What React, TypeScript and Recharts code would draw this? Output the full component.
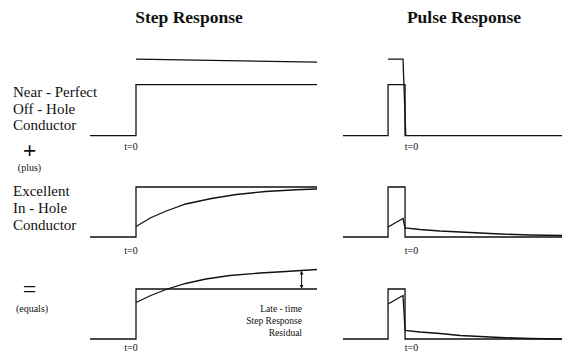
import React from 'react';
import { LineChart, Line, XAxis, YAxis, ReferenceLine } from 'recharts';

const FONT = "'Liberation Serif', 'Times New Roman', Times, serif";
const INK = '#111';

// column titles and row labels
const columnTitles = ['Step Response', 'Pulse Response'];
const rowLabels = [
  ['Near - Perfect', 'Off - Hole', 'Conductor'],
  ['Excellent', 'In - Hole', 'Conductor'],
];
const operatorSymbols = ['+', '='];
const operatorWords = ['(plus)', '(equals)'];
const residualNote = ['Late - time', 'Step Response', 'Residual'];
const tickLabel = 't=0';

// ---- step response series (t: time units, v: normalised amplitude) ----
const stepInput = [
  { t: -0.5, v: 0 }, { t: 0, v: 0 }, { t: 0, v: 1 }, { t: 1.97, v: 1 },
];
const offHoleUpper = [
  { t: 0, v: 1.5 }, { t: 1.97, v: 1.44 },
];
const inHoleStep = [
  { t: 0, v: 0.21 }, { t: 0.16, v: 0.385 }, { t: 0.33, v: 0.52 }, { t: 0.54, v: 0.66 },
  { t: 0.82, v: 0.77 }, { t: 1.09, v: 0.85 }, { t: 1.41, v: 0.91 }, { t: 1.74, v: 0.945 },
  { t: 1.97, v: 0.96 },
];
const residualStep = [
  { t: 0, v: 0.73 }, { t: 0.16, v: 0.87 }, { t: 0.34, v: 1.0 }, { t: 0.54, v: 1.11 },
  { t: 0.76, v: 1.2 }, { t: 1.02, v: 1.27 }, { t: 1.35, v: 1.32 }, { t: 1.63, v: 1.35 },
  { t: 1.97, v: 1.39 },
];
const residualArrow = { t: 1.8, from: 1.0, to: 1.37 };

// ---- pulse response series ----
const pulseInput = [
  { t: -3.65, v: 0 }, { t: -1, v: 0 }, { t: -1, v: 1 }, { t: 0, v: 1 }, { t: 0, v: 0 }, { t: 9.25, v: 0 },
];
const offHolePulseUpper = [
  { t: -1, v: 1.5 }, { t: -0.12, v: 1.5 }, { t: 0.04, v: 0 },
];
const inHolePulse = [
  { t: -1, v: 0.2 }, { t: -0.12, v: 0.37 }, { t: 0, v: 0.18 }, { t: 0.88, v: 0.15 },
  { t: 2.06, v: 0.12 }, { t: 3.24, v: 0.1 }, { t: 5.59, v: 0.06 }, { t: 7.35, v: 0.04 },
  { t: 9.25, v: 0.03 },
];
const residualPulse = [
  { t: -1, v: 0.7 }, { t: -0.12, v: 0.87 }, { t: 0, v: 0.17 }, { t: 0.88, v: 0.14 },
  { t: 2.06, v: 0.11 }, { t: 3.24, v: 0.07 }, { t: 5.59, v: 0.03 }, { t: 7.35, v: 0.01 },
  { t: 9.25, v: 0 },
];

const stepDomain: [number, number] = [-0.5, 1.97];
const pulseDomain: [number, number] = [-3.65, 9.25];
const yDomain: [number, number] = [-0.1, 1.6];

// layout of the rows: baseline pixel and pixels per unit amplitude
const rows = [
  { base: 136, unit: 51, labelOff: 5.6 },
  { base: 237.3, unit: 50, labelOff: 8.2 },
  { base: 339, unit: 50, labelOff: 3.5 },
];
const stepCol = { left: 90, pxPerUnit: 92, tickDx: -5 };
const pulseCol = { left: 343, pxPerUnit: 17, tickDx: 6.5 };
const AXIS_H = 20;

const ArrowShape = (p: any) => {
  const x = p.x1;
  const top = Math.min(p.y1, p.y2);
  const bot = Math.max(p.y1, p.y2);
  return (
    <g>
      <line x1={x} y1={top + 2} x2={x} y2={bot - 2} stroke={INK} strokeWidth={1} />
      <path d={`M${x},${top} L${x - 1.8},${top + 4} L${x + 1.8},${top + 4} Z`} fill={INK} />
      <path d={`M${x},${bot} L${x - 1.8},${bot - 4} L${x + 1.8},${bot - 4} Z`} fill={INK} />
    </g>
  );
};

type Series = { t: number; v: number }[];

function Panel({ row, col, domain, series, arrow }: {
  row: { base: number; unit: number; labelOff: number };
  col: { left: number; pxPerUnit: number; tickDx: number };
  domain: [number, number];
  series: Series[];
  arrow?: { t: number; from: number; to: number };
}) {
  const plotH = (yDomain[1] - yDomain[0]) * row.unit;
  const top = row.base - yDomain[1] * row.unit;
  const width = (domain[1] - domain[0]) * col.pxPerUnit;
  const renderTick = (p: any) => (
    <text
      x={p.x + col.tickDx}
      y={p.y - 8 + row.labelOff}
      textAnchor="middle"
      dominantBaseline="central"
      style={{ fontFamily: FONT }}
      fontSize={10}
      fill={INK}
    >
      {tickLabel}
    </text>
  );
  return (
    <div style={{ position: 'absolute', left: col.left, top, width, height: plotH + AXIS_H }}>
      <LineChart width={width} height={plotH + AXIS_H} margin={{ top: 0, right: 0, bottom: 0, left: 0 }}>
        <XAxis
          dataKey="t"
          type="number"
          domain={domain}
          ticks={[0]}
          height={AXIS_H}
          axisLine={false}
          tickLine={false}
          tick={renderTick}
          allowDuplicatedCategory={false}
        />
        <YAxis type="number" domain={yDomain} hide />
        {series.map((s, i) => (
          <Line
            key={i}
            data={s}
            dataKey="v"
            type="linear"
            stroke={INK}
            strokeWidth={1.3}
            dot={false}
            activeDot={false}
            isAnimationActive={false}
          />
        ))}
        {arrow && (
          <ReferenceLine
            segment={[{ x: arrow.t, y: arrow.from }, { x: arrow.t, y: arrow.to }]}
            shape={ArrowShape}
          />
        )}
      </LineChart>
    </div>
  );
}

const txt = { fontFamily: FONT, fill: INK } as React.CSSProperties;

export default function App() {
  return (
    <div
      style={{
        position: 'absolute', left: 0, top: 0, width: 562, height: 352,
        overflow: 'hidden', background: '#fff',
      }}
    >
      <Panel row={rows[0]} col={stepCol} domain={stepDomain} series={[stepInput, offHoleUpper]} />
      <Panel row={rows[1]} col={stepCol} domain={stepDomain} series={[stepInput, inHoleStep]} />
      <Panel row={rows[2]} col={stepCol} domain={stepDomain} series={[stepInput, residualStep]} arrow={residualArrow} />
      <Panel row={rows[0]} col={pulseCol} domain={pulseDomain} series={[pulseInput, offHolePulseUpper]} />
      <Panel row={rows[1]} col={pulseCol} domain={pulseDomain} series={[pulseInput, inHolePulse]} />
      <Panel row={rows[2]} col={pulseCol} domain={pulseDomain} series={[pulseInput, residualPulse]} />

      <svg
        width={562}
        height={352}
        style={{ position: 'absolute', left: 0, top: 0, pointerEvents: 'none' }}
      >
        <text style={txt} x={189} y={22.5} textAnchor="middle" fontSize={17.5} fontWeight="bold">{columnTitles[0]}</text>
        <text style={txt} x={464} y={22.5} textAnchor="middle" fontSize={17.5} fontWeight="bold">{columnTitles[1]}</text>

        {rowLabels[0].map((s, i) => (
          <text style={txt} key={'a' + i} x={13} y={97.3 + i * 16.4} fontSize={15}>{s}</text>
        ))}
        {rowLabels[1].map((s, i) => (
          <text style={txt} key={'b' + i} x={13} y={195.7 + i * 17.2} fontSize={15}>{s}</text>
        ))}

        <text style={txt} x={29.5} y={158} textAnchor="middle" fontSize={24} fontWeight="bold">{operatorSymbols[0]}</text>
        <text style={txt} x={29.5} y={170.5} textAnchor="middle" fontSize={10}>{operatorWords[0]}</text>
        <text style={txt} x={29.5} y={297} textAnchor="middle" fontSize={24}>{operatorSymbols[1]}</text>
        <text style={txt} x={32} y={312} textAnchor="middle" fontSize={10}>{operatorWords[1]}</text>

        {residualNote.map((s, i) => (
          <text style={txt} key={'r' + i} x={302} y={311.7 + i * 12.2} textAnchor="end" fontSize={9.5}>{s}</text>
        ))}
      </svg>
    </div>
  );
}
